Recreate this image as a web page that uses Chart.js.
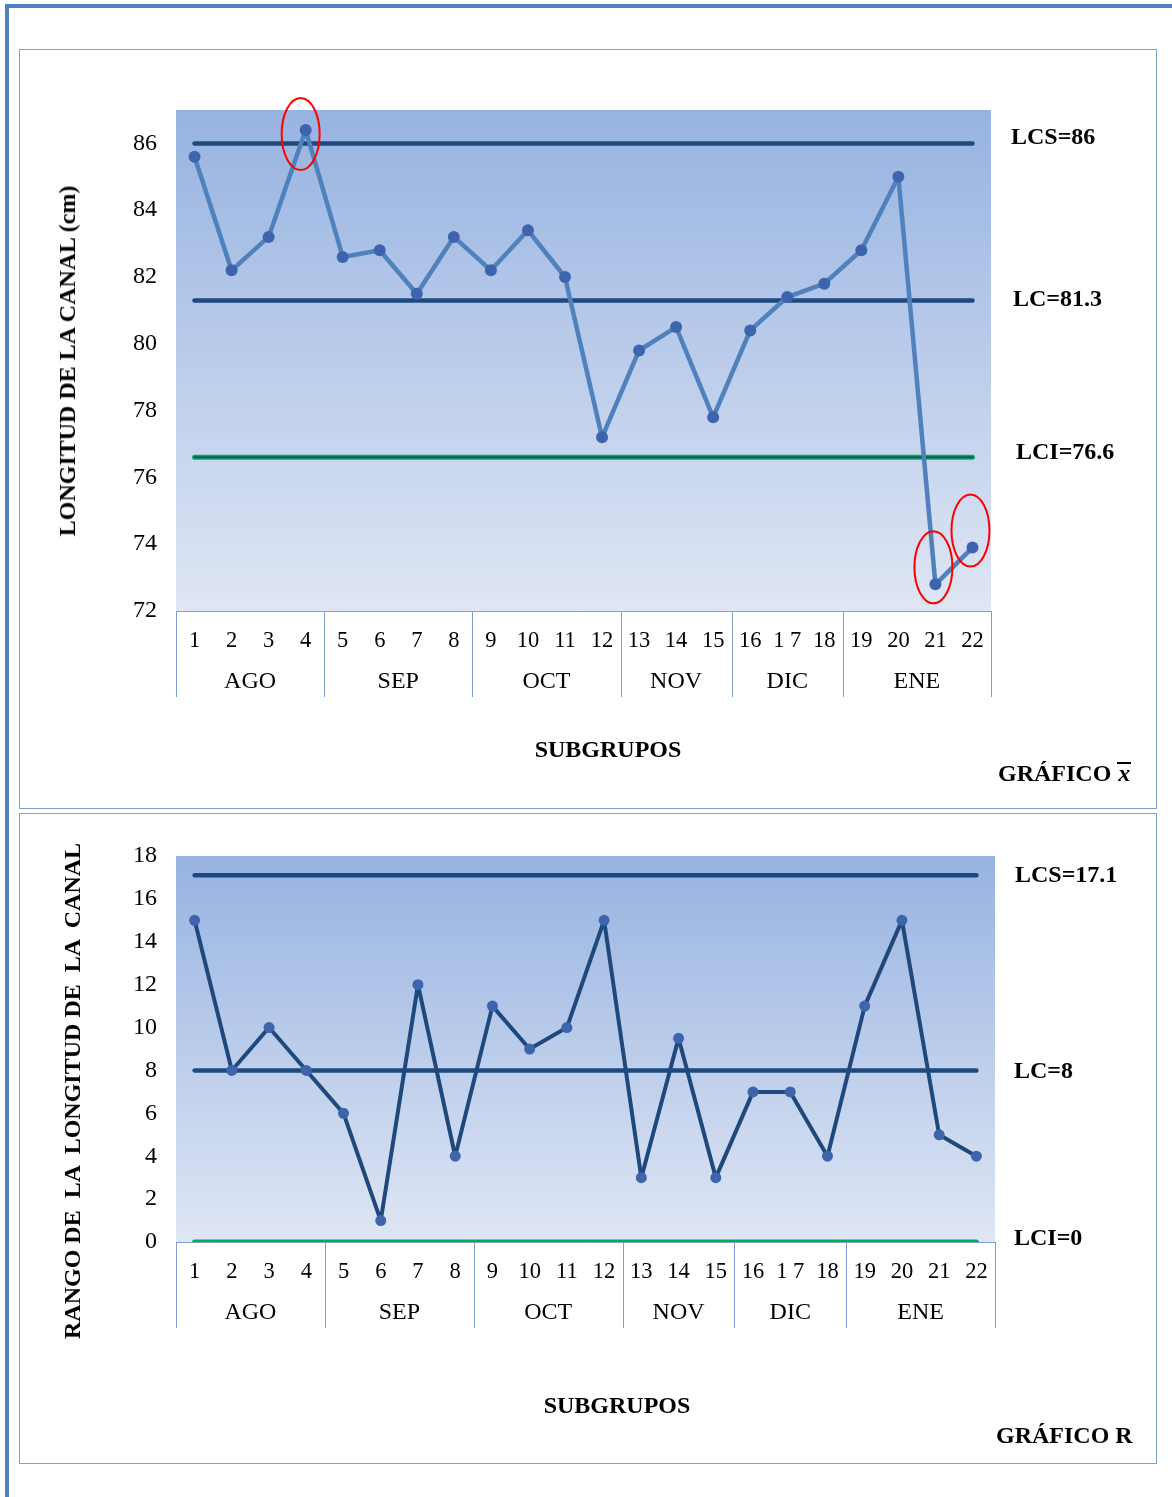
<!DOCTYPE html>
<html lang="es">
<head>
<meta charset="utf-8">
<title>Gráficos de control X̄ - R</title>
<script src="https://cdn.jsdelivr.net/npm/chart.js@4.4.0/dist/chart.umd.min.js"></script>
<style>
  html, body { margin: 0; padding: 0; background: #fff; }
  #page { position: relative; width: 1172px; height: 1497px; overflow: hidden;
          font-family: "Liberation Serif", "Times New Roman", serif; color: #000; }
  .edge { position: absolute; background: #4F81BD; }
  .frame { position: absolute; border: 1.5px solid #7FA2D3; box-sizing: border-box; }
  canvas { position: absolute; left: 0; }
  .txt { position: absolute; font-weight: bold; font-size: 24px; line-height: 1; white-space: pre;
         transform: translate(0, -50%); }
  .ctr { transform: translate(-50%, -50%); }
  .vtxt { position: absolute; font-weight: bold; font-size: 24px; line-height: 1; white-space: pre;
          transform: translate(-50%, -50%) rotate(-90deg); }
  .xbar { display: inline-block; font-style: italic; border-top: 2px solid #000;
          line-height: 0.62; padding: 2px 1px 0 1px; vertical-align: baseline; }
</style>
</head>
<body>
<div id="page">
  <div class="edge" style="left:5px; top:4px; width:1167px; height:4px;"></div>
  <div class="edge" style="left:5px; top:4px; width:4px; height:1493px;"></div>

  <div class="frame" style="left:19px; top:49px; width:1138px; height:760px;"></div>
  <div class="frame" style="left:19px; top:813px; width:1138px; height:651px;"></div>

  <canvas id="meanChart" width="1172" height="810" style="top:0;"></canvas>
  <canvas id="rangeChart" width="1172" height="687" style="top:810px;"></canvas>

  <div class="vtxt" style="left:67px; top:361px;">LONGITUD DE LA CANAL (cm)</div>
  <div class="txt ctr" style="left:608px; top:749px;">SUBGRUPOS</div>
  <div class="txt" style="left:998px; top:773px;">GRÁFICO <span class="xbar">x</span></div>

  <div class="vtxt" style="left:72px; top:1091px;">RANGO DE  LA  LONGITUD DE  LA  CANAL</div>
  <div class="txt ctr" style="left:617px; top:1405px;">SUBGRUPOS</div>
  <div class="txt" style="left:996px; top:1435px;">GRÁFICO R</div>
</div>

<script>
// Subgroup numbers and the month each block of subgroups belongs to
const subgroups = ['1','2','3','4','5','6','7','8','9','10','11','12','13','14','15','16','1 7','18','19','20','21','22'];
const months = ['AGO','SEP','OCT','NOV','DIC','ENE'];
const monthSizes = [4, 4, 4, 3, 3, 4];

// Subgroup means (cm) and their control limits
const meanValues = [85.6, 82.2, 83.2, 86.4, 82.6, 82.8, 81.5, 83.2, 82.2, 83.4, 82.0,
                    77.2, 79.8, 80.5, 77.8, 80.4, 81.4, 81.8, 82.8, 85.0, 72.8, 73.9];
const meanUCL = 86;
const meanCL = 81.3;
const meanLCL = 76.6;
const meanTicks = [72, 74, 76, 78, 80, 82, 84, 86];

// Subgroup ranges and their control limits
const rangeValues = [15, 8, 10, 8, 6, 1, 12, 4, 11, 9, 10, 15, 3, 9.5, 3, 7, 7, 4, 11, 15, 5, 4];
const rangeUCL = 17.1;
const rangeCL = 8;
const rangeLCL = 0;
const rangeTicks = [0, 2, 4, 6, 8, 10, 12, 14, 16, 18];

const FONT = '"Liberation Serif", "Times New Roman", serif';
const NAVY = '#1F497D';
const GREEN = '#00B050';
const AXIS_BLUE = '#7F9FD0';

// Soft blue gradient behind the plotting area
const plotBackground = {
  id: 'plotBackground',
  beforeDraw(chart) {
    const { ctx, chartArea: a } = chart;
    const g = ctx.createLinearGradient(0, a.top, 0, a.bottom);
    g.addColorStop(0, '#97B3E1');
    g.addColorStop(1, '#DFE6F4');
    ctx.save();
    ctx.fillStyle = g;
    ctx.fillRect(a.left, a.top, a.right - a.left, a.bottom - a.top);
    ctx.restore();
  }
};

// Month grouping under the subgroup numbers, with separators between months
const monthAxis = {
  id: 'monthAxis',
  beforeDatasetsDraw(chart) {
    const { ctx, chartArea: a, scales: { x } } = chart;
    const half = (x.getPixelForValue(1) - x.getPixelForValue(0)) / 2;
    ctx.save();
    ctx.strokeStyle = AXIS_BLUE;
    ctx.lineWidth = 1;
    ctx.beginPath();
    ctx.moveTo(a.left, a.bottom + 0.5);
    ctx.lineTo(a.right, a.bottom + 0.5);
    let start = 0;
    const edges = [0];
    monthSizes.forEach(n => { start += n; edges.push(start); });
    edges.forEach(i => {
      const px = Math.round(x.getPixelForValue(i) - half) + 0.5;
      ctx.moveTo(px, a.bottom);
      ctx.lineTo(px, a.bottom + 86);
    });
    ctx.stroke();
    ctx.fillStyle = '#000';
    ctx.font = '24px ' + FONT;
    ctx.textAlign = 'center';
    ctx.textBaseline = 'middle';
    start = 0;
    months.forEach((m, k) => {
      const first = x.getPixelForValue(start) - half;
      const last = x.getPixelForValue(start + monthSizes[k] - 1) + half;
      ctx.fillText(m, (first + last) / 2, a.bottom + 71);
      start += monthSizes[k];
    });
    ctx.restore();
  }
};

// Control-limit captions to the right of the plot
const limitCaptions = {
  id: 'limitCaptions',
  afterDraw(chart, args, opts) {
    const { ctx, chartArea: a, scales: { y } } = chart;
    ctx.save();
    ctx.fillStyle = '#000';
    ctx.font = 'bold 24px ' + FONT;
    ctx.textAlign = 'left';
    ctx.textBaseline = 'middle';
    (opts.items || []).forEach(it => {
      ctx.fillText(it.name + '=' + it.value, a.right + it.dx, y.getPixelForValue(it.value) + it.dy);
    });
    ctx.restore();
  }
};

// Red rings around subgroups that fall outside the control limits
const outOfControlRings = {
  id: 'outOfControlRings',
  afterDatasetsDraw(chart, args, opts) {
    if (!opts.enabled) return;
    const { ctx } = chart;
    const meta = chart.getDatasetMeta(0);
    const values = chart.data.datasets[0].data;
    ctx.save();
    ctx.strokeStyle = '#FF0000';
    ctx.lineWidth = 2;
    values.forEach((v, i) => {
      let dx, dy;
      if (v > opts.upper) { dx = -5; dy = 4; }
      else if (v < opts.lower) { dx = -2; dy = -17; }
      else return;
      const p = meta.data[i];
      ctx.beginPath();
      ctx.ellipse(p.x + dx, p.y + dy, 19, 36, 0, 0, Math.PI * 2);
      ctx.stroke();
    });
    ctx.restore();
  }
};

function limitLine(value, color, width, order) {
  return {
    data: subgroups.map(() => value),
    borderColor: color,
    borderWidth: width,
    borderCapStyle: 'round',
    pointRadius: 0,
    pointHoverRadius: 0,
    fill: false,
    order
  };
}

function buildOptions(cfg) {
  return {
    responsive: false,
    animation: false,
    events: [],
    layout: { padding: cfg.padding },
    plugins: {
      legend: { display: false },
      tooltip: { enabled: false },
      title: { display: false },
      limitCaptions: { items: cfg.captions },
      outOfControlRings: cfg.rings
    },
    scales: {
      x: {
        type: 'category',
        offset: true,
        grid: { display: false, drawTicks: false },
        border: { display: false },
        ticks: {
          autoSkip: false, maxRotation: 0, minRotation: 0,
          padding: 17, color: '#000',
          font: { family: FONT, size: 22.5 }
        },
        afterFit(s) { s.height = 95; }
      },
      y: {
        min: cfg.min, max: cfg.max,
        grid: { display: false, drawTicks: false },
        border: { display: false },
        ticks: {
          padding: 19, color: '#000',
          font: { family: FONT, size: 24 }
        },
        afterBuildTicks(s) { s.ticks = cfg.ticks.map(v => ({ value: v })); },
        afterFit(s) { s.width = 60; }
      }
    }
  };
}

Chart.register(plotBackground, monthAxis, limitCaptions, outOfControlRings);

new Chart(document.getElementById('meanChart'), {
  type: 'line',
  data: {
    labels: subgroups,
    datasets: [
      {
        data: meanValues,
        borderColor: '#4F81BD',
        borderWidth: 4.5,
        borderJoinStyle: 'round',
        pointRadius: 6,
        pointBackgroundColor: '#3D64AD',
        pointBorderColor: '#3D64AD',
        pointBorderWidth: 0,
        tension: 0,
        order: 0
      },
      limitLine(meanLCL, NAVY, 2, 1),
      limitLine(meanLCL, GREEN, 5, 2),
      limitLine(meanUCL, NAVY, 4.5, 3),
      limitLine(meanCL, NAVY, 4.5, 3)
    ]
  },
  options: buildOptions({
    padding: { left: 116, top: 110, right: 181, bottom: 104 },
    min: 72, max: 87, ticks: meanTicks,
    captions: [
      { name: 'LCS', value: meanUCL, dx: 20, dy: -6 },
      { name: 'LC', value: meanCL, dx: 22, dy: -1 },
      { name: 'LCI', value: meanLCL, dx: 25, dy: -5 }
    ],
    rings: { enabled: true, upper: meanUCL, lower: meanLCL }
  })
});

new Chart(document.getElementById('rangeChart'), {
  type: 'line',
  data: {
    labels: subgroups,
    datasets: [
      {
        data: rangeValues,
        borderColor: NAVY,
        borderWidth: 4,
        borderJoinStyle: 'round',
        pointRadius: 5.5,
        pointBackgroundColor: '#3D64AD',
        pointBorderColor: '#3D64AD',
        pointBorderWidth: 0,
        tension: 0,
        order: 0
      },
      limitLine(rangeLCL, GREEN, 5, 2),
      limitLine(rangeUCL, NAVY, 4.5, 3),
      limitLine(rangeCL, NAVY, 4.5, 3)
    ]
  },
  options: buildOptions({
    padding: { left: 116, top: 46, right: 177, bottom: 160 },
    min: 0, max: 18, ticks: rangeTicks,
    captions: [
      { name: 'LCS', value: rangeUCL, dx: 20, dy: 0 },
      { name: 'LC', value: rangeCL, dx: 19, dy: 1 },
      { name: 'LCI', value: rangeLCL, dx: 19, dy: -3 }
    ],
    rings: { enabled: false }
  })
});
</script>
</body>
</html>
